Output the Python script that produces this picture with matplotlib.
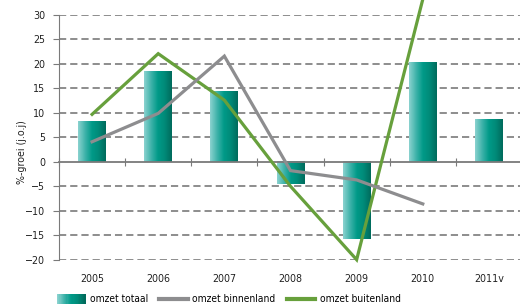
import numpy as np
import matplotlib
matplotlib.use("Agg")
import matplotlib.pyplot as plt
from matplotlib.legend_handler import HandlerBase
from matplotlib.patches import Rectangle
from matplotlib.lines import Line2D
from matplotlib.colors import LinearSegmentedColormap
from matplotlib import font_manager

# data
jaren = ["2005", "2006", "2007", "2008", "2009", "2010", "2011v"]
omzet_totaal = [8.3, 18.5, 14.5, -4.5, -15.8, 20.4, 8.7]
omzet_binnenland = [4.1, 9.9, 21.6, -1.8, -3.7, -8.6]
omzet_buitenland = [9.7, 22.1, 12.6, -5.0, -20.0, 33.2]
yticks = list(range(-20, 35, 5))

# pick a narrow font if one is installed
namen = {f.name for f in font_manager.fontManager.ttflist}
if "Liberation Sans Narrow" in namen:
    plt.rcParams["font.family"] = ["Liberation Sans Narrow", "DejaVu Sans"]
else:
    plt.rcParams["font.family"] = ["DejaVu Sans"]
    plt.rcParams["font.stretch"] = "condensed"
plt.rcParams["font.size"] = 7.7

teal = LinearSegmentedColormap.from_list(
    "teal", ["#8ad2cf", "#3fb3aa", "#009a88", "#008a78", "#006b5c"])
groen = "#67a03c"
grijs = "#8d8d8f"
rooster = "#858585"

fig = plt.figure(figsize=(5.2, 3.04), dpi=100)
ax = fig.add_axes([59 / 520, (304 - 259.7) / 304, 463 / 520, 244.7 / 304])

x = np.arange(len(jaren))

# dashed grid, solid zero line
for v in yticks:
    if v != 0:
        ax.axhline(v, color=rooster, lw=1.3, ls=(0, (4, 2.2)), zorder=1)

# bars with horizontal gradient
grad = np.linspace(0, 1, 64).reshape(1, -1)
bars = ax.bar(x, omzet_totaal, width=0.42, color="none", zorder=2)
for b in bars:
    x0, w = b.get_x(), b.get_width()
    y0, h = b.get_y(), b.get_height()
    ax.imshow(grad, cmap=teal, aspect="auto", zorder=2,
              extent=(x0, x0 + w, y0, y0 + h), interpolation="bilinear")
ax.set_xlim(-0.5, 6.5)
ax.set_ylim(-20, 30)

ax.plot(x[:len(omzet_buitenland)], omzet_buitenland, color=groen, lw=2.3,
        zorder=3, solid_joinstyle="miter", clip_on=False)
ax.plot(x[:len(omzet_binnenland)], omzet_binnenland, color=grijs, lw=2.3,
        zorder=4, solid_joinstyle="miter")

# axes styling
for s in ["top", "right"]:
    ax.spines[s].set_visible(False)
ax.spines["left"].set_color("#7a7a7a")
ax.spines["bottom"].set_color("#7a7a7a")
ax.spines["bottom"].set_position(("data", 0))
ax.spines["bottom"].set_linewidth(1.3)
ax.set_yticks(yticks)
ax.tick_params(axis="y", length=4, color="#7a7a7a", pad=6, labelcolor="#222222")
ax.set_xticks(np.arange(-0.5, 7, 1))
ax.set_xticklabels([])
ax.tick_params(axis="x", direction="inout", length=6, color="#7a7a7a")
for i, j in enumerate(jaren):
    ax.text(i, -0.078, j, transform=ax.get_xaxis_transform(), ha="center",
            va="center", color="#222222")

fig.text(22 / 520, 1 - 152 / 304, "%-groei (j.o.j)", rotation=90,
         ha="center", va="center", color="#222222")


class GradientHandler(HandlerBase):
    def create_artists(self, legend, orig, xd, yd, w, h, fs, trans):
        n = 24
        arts = []
        for k in range(n):
            r = Rectangle((xd + w * k / n, yd - 1), w / n + 0.3, h + 2,
                          facecolor=teal(k / (n - 1)), edgecolor="none",
                          transform=trans)
            arts.append(r)
        return arts


handles = [Rectangle((0, 0), 1, 1), Line2D([], [], color=grijs, lw=3),
           Line2D([], [], color=groen, lw=3)]
labels = ["omzet totaal", "omzet binnenland", "omzet buitenland"]
fig.legend(handles, labels, loc="center left", bbox_to_anchor=(57 / 520, 0.016),
           ncol=3, frameon=False, handlelength=2.8, handletextpad=0.45,
           columnspacing=1.1, borderpad=0, borderaxespad=0, fontsize=7.3,
           handler_map={Rectangle: GradientHandler()})

fig.savefig("out.png", dpi=100)
